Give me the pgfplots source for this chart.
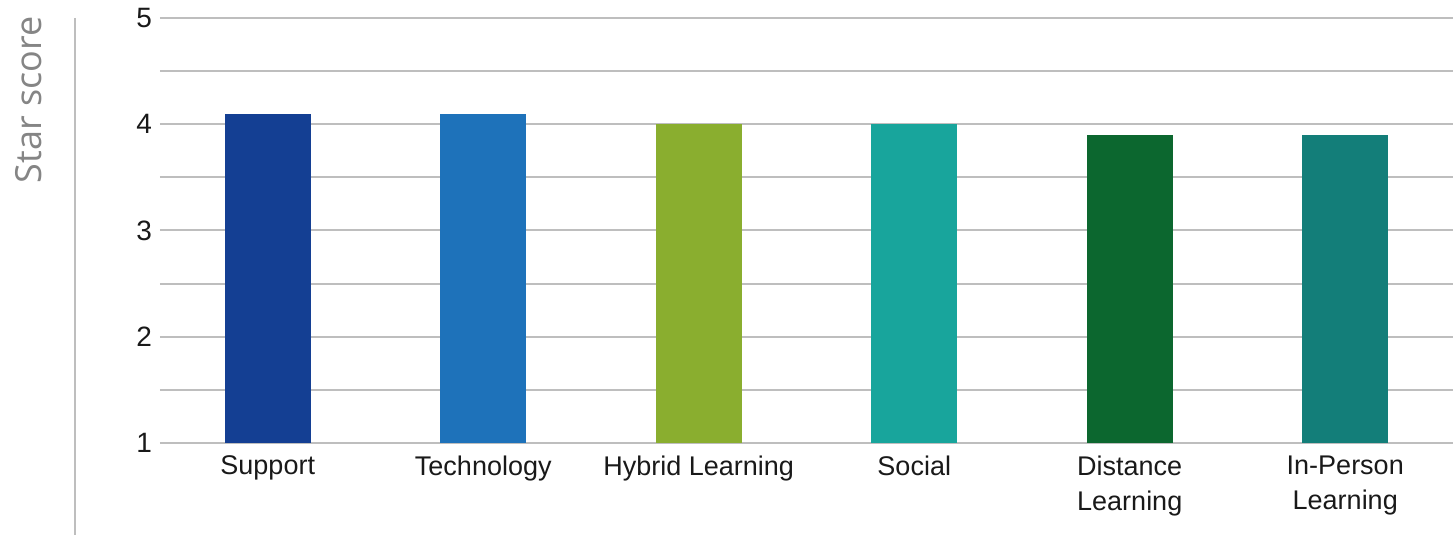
\documentclass[border=0pt]{standalone}
\usepackage{fontspec}
\setmainfont{Liberation Sans}
\newfontfamily\labelfont{Open Sans}
\usepackage{pgfplots}
\pgfplotsset{compat=1.18}

\definecolor{cSupport}{HTML}{143F93}
\definecolor{cTech}{HTML}{1E72BA}
\definecolor{cHybrid}{HTML}{8AAE2F}
\definecolor{cSocial}{HTML}{18A59C}
\definecolor{cDistance}{HTML}{0C672F}
\definecolor{cInPerson}{HTML}{137E79}
\definecolor{gridgray}{HTML}{BEBEBE}

\begin{document}
\begin{tikzpicture}
\begin{axis}[
    name=ax,
    scale only axis,
    width=646.5pt, height=212.5pt,
    ybar, bar width=0.4,
    xmin=-0.5, xmax=5.5,
    ymin=1, ymax=5,
    xtick={0,1,2,3,4,5},
    xticklabels={Support, Technology, Hybrid Learning, Social, {Distance\\Learning}, {In-Person\\Learning}},
    x tick label style={font=\fontsize{13.5}{17.5}\selectfont, align=center, anchor=north, yshift=-3pt, text=black!90},
    ytick={1,2,3,4,5},
    minor ytick={1.5,2.5,3.5,4.5},
    y tick label style={font=\fontsize{14}{16}\selectfont, text=black!90, xshift=-0.5pt},
    /pgf/number format/assume math mode=true,
    major tick length=0pt, minor tick length=0pt,
    axis line style={draw=none},
    ymajorgrids, yminorgrids,
    major grid style={draw=gridgray, line width=1pt},
    minor grid style={draw=gridgray, line width=1pt},
]
\addplot[fill=cSupport, draw=none, bar shift=0pt] coordinates {(0,4.1)};
\addplot[fill=cTech, draw=none, bar shift=0pt] coordinates {(1,4.1)};
\addplot[fill=cHybrid, draw=none, bar shift=0pt] coordinates {(2,4.0)};
\addplot[fill=cSocial, draw=none, bar shift=0pt] coordinates {(3,4.0)};
\addplot[fill=cDistance, draw=none, bar shift=0pt] coordinates {(4,3.9)};
\addplot[fill=cInPerson, draw=none, bar shift=0pt] coordinates {(5,3.9)};
\coordinate (bl) at (rel axis cs:0,0);
\coordinate (tl) at (rel axis cs:0,1);
\coordinate (tr) at (rel axis cs:1,1);
\end{axis}
\draw[gridgray, line width=1pt] ([xshift=-42.5pt]tl) -- ([xshift=-42.5pt, yshift=-46pt]bl);
\node[rotate=90, anchor=east, inner sep=0pt, text=black!48, font=\labelfont\fontsize{18}{21}\selectfont]
    at ([xshift=-65.5pt, yshift=1pt]tl) {Star score};
\pgfresetboundingbox
\path ([xshift=-80pt, yshift=-46pt]bl) rectangle ([yshift=9pt]tr);
\end{tikzpicture}
\end{document}
